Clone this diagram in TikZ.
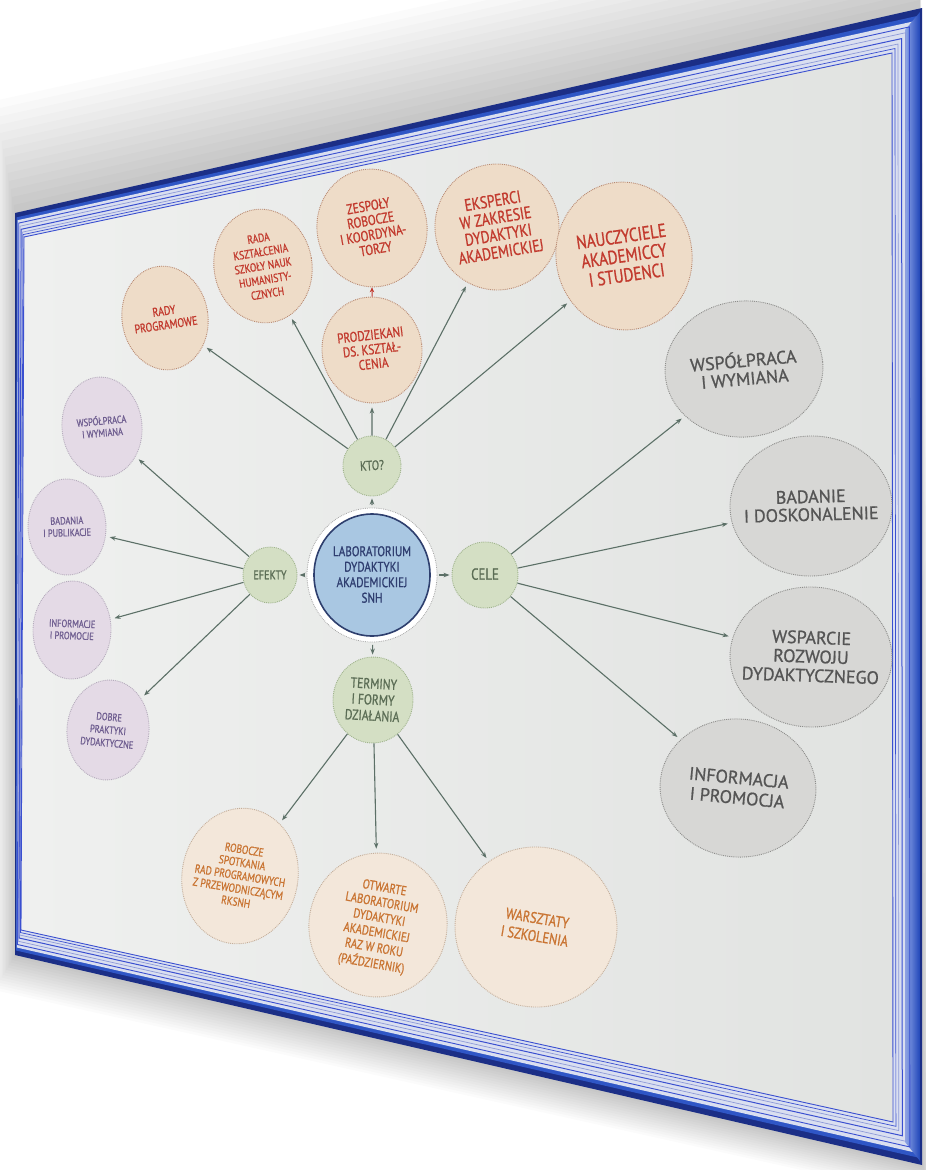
\documentclass[tikz,border=0pt]{standalone}
\usepackage{fontspec}
\setmainfont{PT Sans}[FakeStretch=0.8, FakeBold=0.9]
\newfontfamily\widesans{PT Sans}[FakeBold=0.9]
\usetikzlibrary{shapes.geometric,arrows.meta,calc}
\definecolor{ofill}{HTML}{EEDCC8}
\definecolor{oline}{HTML}{B98A72}
\definecolor{ored}{HTML}{C23A2E}
\definecolor{bfill}{HTML}{F3E7DA}
\definecolor{bline}{HTML}{C4AE9A}
\definecolor{btext}{HTML}{C97432}
\definecolor{gfill}{HTML}{D4DFC4}
\definecolor{gline}{HTML}{9FB38C}
\definecolor{gtext}{HTML}{5B6D55}
\definecolor{pfill}{HTML}{E4DAE6}
\definecolor{pline}{HTML}{B5ABBC}
\definecolor{ptext}{HTML}{6F5E90}
\definecolor{yfill}{HTML}{D7D7D5}
\definecolor{yline}{HTML}{8C8C8A}
\definecolor{ytext}{HTML}{555555}
\definecolor{cfill}{HTML}{A9C7E2}
\definecolor{cline}{HTML}{2E3F6E}
\definecolor{ctext}{HTML}{2F3E70}
\definecolor{arrc}{HTML}{5C7067}
\definecolor{frameA}{HTML}{1B2E86}
\definecolor{frameB}{HTML}{2F56C6}
\definecolor{frameC}{HTML}{DADFF0}
\definecolor{lineA}{HTML}{3A4FD0}
\definecolor{lineB}{HTML}{8E9AD8}
\definecolor{bandL}{HTML}{8FA6E8}
\definecolor{bandR}{HTML}{1F45B8}
\definecolor{boardL}{HTML}{EFF0EF}
\definecolor{boardR}{HTML}{E1E3E1}
\newcommand\zbox[1]{\makebox[0pt]{\raisebox{-0.35em}[0pt][0pt]{\begin{tabular}{@{}c@{}}#1\end{tabular}}}}
\begin{document}
\begin{tikzpicture}[x=1pt,y=-1pt,
  bub/.style={ellipse, inner sep=0pt, line width=0.9pt, densely dotted},
  sz/.style 2 args={minimum width=#1pt, minimum height=#2pt},
  fs/.style 2 args={font=\fontsize{#1}{#2}\selectfont},
  wfs/.style 2 args={font=\widesans\fontsize{#1}{#2}\selectfont},
  who/.style={bub, fill=ofill, draw=oline, text=ored},
  how/.style={bub, fill=bfill, draw=bline, text=btext},
  hub/.style={bub, fill=gfill, draw=gline, text=gtext},
  eff/.style={bub, fill=pfill, draw=pline, text=ptext},
  aim/.style={bub, fill=yfill, draw=yline, text=ytext},
  arr/.style={draw=arrc, line width=1.1pt, solid, -{Stealth[length=6pt,width=4.5pt]}, shorten >=4pt},
  redarr/.style={draw=ored, line width=1pt, solid, -{Stealth[length=5pt,width=4.5pt]}},
  ring/.style={fill=white, draw=gray!70, densely dotted, line width=0.8pt}
]
\useasboundingbox (0,0) rectangle (926,1170);
\fill[white] (0,0) rectangle (926,1170);
% shadow
\foreach \k in {1,...,14}
  \fill[black,opacity=0.016] ({15-1.5*\k},{213-8*\k}) -- (920,{8-8*\k}) -- ({922+\k},{1165+2.5*\k}) -- ({15-1.5*\k},{955+2.5*\k}) -- cycle;
% frame
\coordinate (o1) at (15,213); \coordinate (o2) at (922,8);
\coordinate (o3) at (922,1165); \coordinate (o4) at (15,955);
\coordinate (i1) at (24,237); \coordinate (i2) at (892,53);
\coordinate (i3) at (893,1122); \coordinate (i4) at (21,930);
\foreach \f/\c in {0/frameA,0.18/frameB,0.3/frameC}
  \fill[\c] ($(o1)!\f!(i1)$) -- ($(o2)!\f!(i2)$) -- ($(o3)!\f!(i3)$) -- ($(o4)!\f!(i4)$) -- cycle;
\shade[left color=bandL, right color=bandR] (905,30) -- (920,12) -- (920,1161) -- (905,1142) -- cycle;
\foreach \f/\c/\w in {0.42/lineA/0.9,0.55/lineB/0.7,0.68/lineA/1.0,0.8/lineB/0.7,0.9/lineA/0.7}
  \draw[\c, line width=\w pt] ($(o1)!\f!(i1)$) -- ($(o2)!\f!(i2)$) -- ($(o3)!\f!(i3)$) -- ($(o4)!\f!(i4)$) -- cycle;
\shade[left color=boardL, right color=boardR] (i1) -- (i2) -- (i3) -- (i4) -- cycle;
\draw[lineA, line width=0.9pt] (i1) -- (i2) -- (i3) -- (i4) -- cycle;

% centre
\coordinate (hubc) at (372,575);
\draw[ring] (hubc) ellipse [x radius=65, y radius=67];
\node[ellipse, inner sep=0pt, sz={116}{122}, fill=cfill, draw=cline, line width=1.6pt, text=ctext, fs={14}{15.5}] (lab) at (hubc) {\zbox{LABORATORIUM\\DYDAKTYKI\\AKADEMICKIEJ\\SNH}};

% hubs
\node[hub, sz={58}{60}, rotate=3.2, fs={13.5}{15}] (kto) at (372,466) {\zbox{KTO?}};
\node[hub, sz={54}{56}, fs={12.7}{14}] (efekty) at (270,575) {\zbox{EFEKTY}};
\node[hub, sz={66}{66}, fs={16}{17}] (cele) at (485,575) {\zbox{CELE}};
\node[hub, sz={80}{86}, rotate=-3.1, fs={14.5}{16}] (term) at (373,700) {\zbox{TERMINY\\I FORMY\\DZIAŁANIA}};

% who
\node[who, sz={86}{104}, rotate=8.3, fs={12.4}{14}] (rady) at (165,318) {\zbox{RADY\\PROGRAMOWE}};
\node[who, sz={98}{114}, rotate=9.4, fs={11.8}{14}] (rada) at (263,266) {\zbox{RADA\\KSZTAŁCENIA\\SZKOŁY NAUK\\HUMANISTY-\\CZNYCH}};
\node[who, sz={110}{118}, rotate=10, fs={14.3}{14.5}] (zesp) at (372,228) {\zbox{ZESPOŁY\\ROBOCZE\\I KOORDYNA-\\TORZY}};
\node[who, sz={124}{126}, rotate=9.4, fs={17}{17}] (eksp) at (497,227) {\zbox{EKSPERCI\\W ZAKRESIE\\DYDAKTYKI\\AKADEMICKIEJ}};
\node[who, sz={136}{148}, rotate=8.2, fs={19}{19.5}] (naucz) at (624,256) {\zbox{NAUCZYCIELE\\AKADEMICCY\\I STUDENCI}};
\node[who, sz={100}{106}, rotate=6.5, fs={14}{14.5}] (prodz) at (372,350) {\zbox{PRODZIEKANI\\DS. KSZTAŁ-\\CENIA}};

% effects
\node[eff, sz={80}{100}, rotate=5, fs={10.5}{12}] (ew) at (102,427) {\zbox{WSPÓŁPRACA\\I WYMIANA}};
\node[eff, sz={78}{96}, rotate=1.6, fs={10.5}{12}] (eb) at (67,527) {\zbox{BADANIA\\I PUBLIKACJE}};
\node[eff, sz={78}{98}, rotate=-1.9, fs={10.5}{12}] (ei) at (72,630) {\zbox{INFORMACJE\\I PROMOCJE}};
\node[eff, sz={82}{100}, rotate=-5.2, fs={10.5}{13}] (ed) at (108,730) {\zbox{DOBRE\\PRAKTYKI\\DYDAKTYCZNE}};

% aims
\node[aim, sz={158}{136}, rotate=5, wfs={18}{18}] (cw) at (744,369) {\zbox{WSPÓŁPRACA\\I WYMIANA}};
\node[aim, sz={162}{140}, rotate=1.6, wfs={18}{17}] (cb) at (811,506) {\zbox{BADANIE\\I DOSKONALENIE}};
\node[aim, sz={162}{140}, rotate=-2, wfs={18}{19}] (cs) at (811,657) {\zbox{WSPARCIE\\ROZWOJU\\DYDAKTYCZNEGO}};
\node[aim, sz={156}{138}, rotate=-5.3, wfs={18}{20}] (ci) at (738,788) {\zbox{INFORMACJA\\I PROMOCJA}};

% how
\node[how, sz={116}{136}, rotate=-9.3, fs={11.8}{13.2}] (rob) at (240,876) {\zbox{ROBOCZE\\SPOTKANIA\\RAD PROGRAMOWYCH\\Z PRZEWODNICZĄCYM\\RKSNH}};
\node[how, sz={138}{144}, rotate=-10, fs={13.2}{15.2}] (otw) at (378,925) {\zbox{OTWARTE\\LABORATORIUM\\DYDAKTYKI\\AKADEMICKIEJ\\RAZ W ROKU\\(PAŹDZIERNIK)}};
\node[how, sz={162}{160}, rotate=-9.4, fs={15.5}{18}] (warsz) at (536,927) {\zbox{WARSZTATY\\I SZKOLENIA}};

% connectors
\foreach \t in {kto,efekty,cele,term}
  \draw[arr, shorten <=8pt, shorten >=2pt] (lab) -- (\t);
\foreach \t in {rady,rada,prodz,eksp,naucz}
  \draw[arr] (kto) -- (\t);
\draw[redarr] (prodz) -- (zesp);
\foreach \t in {ew,eb,ei,ed}
  \draw[arr] (efekty) -- (\t);
\foreach \t in {cw,cb,cs,ci}
  \draw[arr] (cele) -- (\t);
\foreach \t in {rob,otw,warsz}
  \draw[arr] (term) -- (\t);
\end{tikzpicture}
\end{document}
